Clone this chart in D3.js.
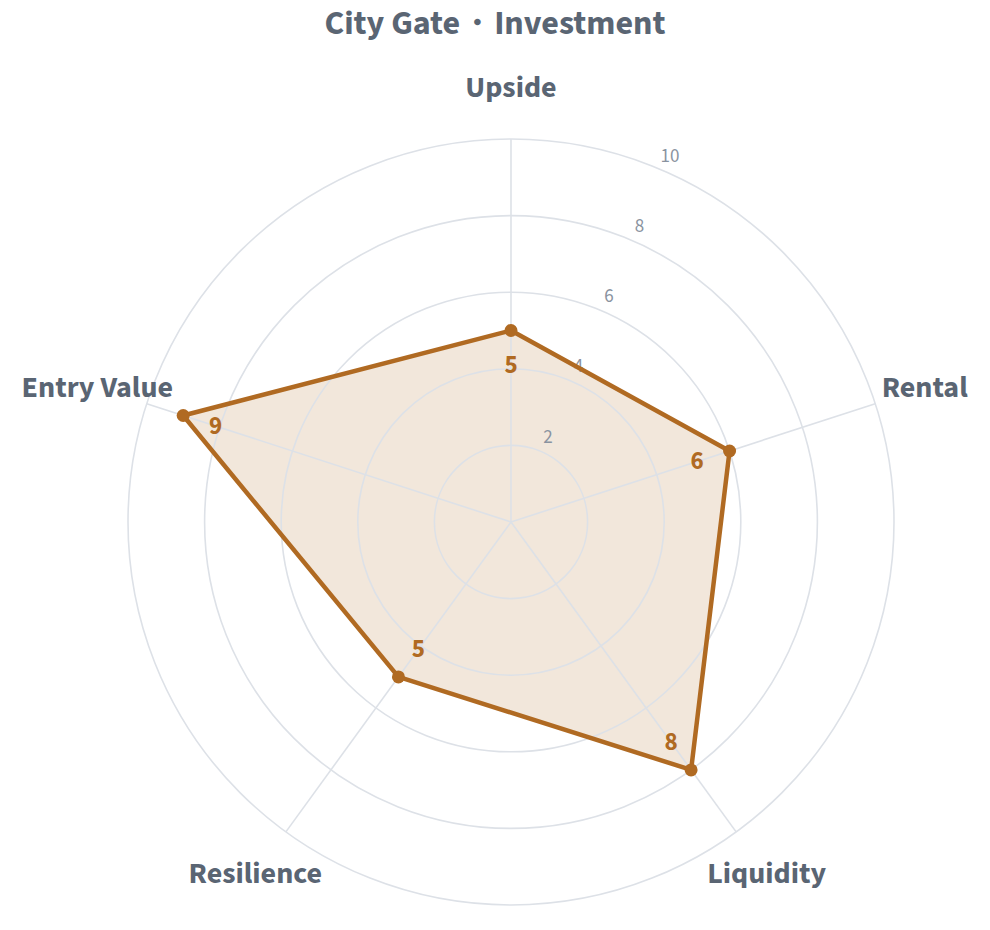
<!DOCTYPE html>
<html><head><meta charset="utf-8">
<script src="https://cdn.jsdelivr.net/npm/d3@7"></script>
<style>
html,body{margin:0;padding:0;background:#fff;}
text{font-family:"Source Sans Pro","Source Sans 3","Lato","Noto Sans",sans-serif;}
</style></head>
<body>
<svg id="chart" width="990" height="930"></svg>
<script>
const title = "City Gate・Investment";
const categories = ["Upside", "Rental", "Liquidity", "Resilience", "Entry Value"];
const values = [5, 6, 8, 5, 9];
const ticks = [2, 4, 6, 8, 10];
const maxValue = 10;

const svg = d3.select("#chart");
const cx = 511, cy = 522, R = 383;
const r = d3.scaleLinear().domain([0, maxValue]).range([0, R]);
const angle = d3.scalePoint().domain(categories).range([0, 2 * Math.PI * (categories.length - 1) / categories.length]);
const pos = (a, rad) => [cx + rad * Math.sin(a), cy - rad * Math.cos(a)];

const line = d3.lineRadial().angle((d, i) => angle(categories[i])).radius(d => r(d)).curve(d3.curveLinearClosed);
svg.append("path").datum(values)
  .attr("transform", `translate(${cx},${cy})`)
  .attr("d", line)
  .attr("fill", "rgba(176,106,34,0.16)")
  .attr("stroke", "none");

const grid = svg.append("g");
grid.selectAll("circle").data(ticks).join("circle")
  .attr("cx", cx).attr("cy", cy).attr("r", d => r(d))
  .attr("fill", "none").attr("stroke", "#dde1e7").attr("stroke-width", 1.6);
grid.selectAll("line").data(categories).join("line")
  .attr("x1", cx).attr("y1", cy)
  .attr("x2", d => pos(angle(d), R)[0]).attr("y2", d => pos(angle(d), R)[1])
  .attr("stroke", "#dde1e7").attr("stroke-width", 1.6);

const tickAngle = 0.41;
svg.append("g").selectAll("text").data(ticks).join("text")
  .attr("x", d => pos(tickAngle, r(d) + 16)[0])
  .attr("y", d => pos(tickAngle, r(d) + 16)[1])
  .attr("text-anchor", "middle").attr("dominant-baseline", "central")
  .attr("fill", "#8a93a0").attr("font-size", 19)
  .text(d => d);

svg.append("path").datum(values)
  .attr("transform", `translate(${cx},${cy})`)
  .attr("d", line)
  .attr("fill", "none")
  .attr("stroke", "#b06a22").attr("stroke-width", 4.5).attr("stroke-linejoin", "round");

svg.append("g").selectAll("circle").data(values).join("circle")
  .attr("cx", (d, i) => pos(angle(categories[i]), r(d))[0])
  .attr("cy", (d, i) => pos(angle(categories[i]), r(d))[1])
  .attr("r", 6.5).attr("fill", "#b06a22");

svg.append("g").selectAll("text").data(values).join("text")
  .attr("x", (d, i) => pos(angle(categories[i]), r(d) - 34)[0])
  .attr("y", (d, i) => pos(angle(categories[i]), r(d) - 34)[1])
  .attr("text-anchor", "middle").attr("dominant-baseline", "central")
  .attr("fill", "#b06a22").attr("font-size", 25).attr("font-weight", "bold")
  .text(d => d);

svg.append("g").selectAll("text").data(categories).join("text")
  .attr("x", d => pos(angle(d), 435)[0])
  .attr("y", d => pos(angle(d), 435)[1])
  .attr("text-anchor", "middle").attr("dominant-baseline", "central")
  .attr("fill", "#5a6573").attr("font-size", 30).attr("font-weight", "bold")
  .text(d => d);

svg.append("text").attr("x", 495).attr("y", 34)
  .attr("text-anchor", "middle")
  .attr("fill", "#5a6573").attr("font-size", 34).attr("font-weight", "bold")
  .text(title);
</script>
</body></html>
